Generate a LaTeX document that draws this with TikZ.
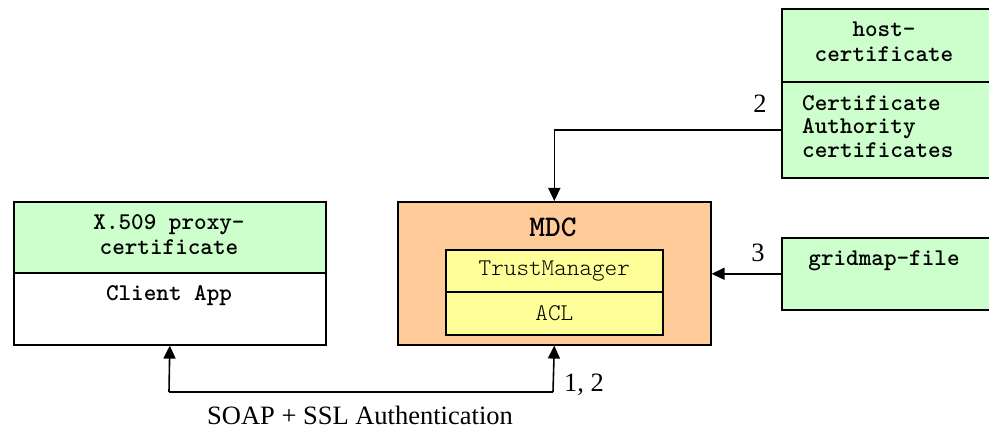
\documentclass[tikz,border=0pt]{standalone}
\usepackage{fontspec}
\setmainfont{Liberation Serif}
\setmonofont{lmmonolt10-regular.otf}[BoldFont=lmmonolt10-bold.otf]
\usetikzlibrary{arrows.meta}
\definecolor{cgreen}{HTML}{CCFFCC}
\definecolor{corange}{HTML}{FFCC99}
\definecolor{cyellow}{HTML}{FFFF99}
\tikzset{
  box/.style={draw=black, line width=1.6pt, anchor=north west, inner sep=0pt},
  mono/.style={font=\fontsize{24}{25}\selectfont\ttfamily},
  monob/.style={font=\fontsize{24}{25}\selectfont\ttfamily\bfseries},
  lbl/.style={font=\fontsize{26.5}{30}\selectfont\rmfamily, inner sep=0pt},
  arr/.style={line width=1.6pt, -{Triangle[length=13pt,width=12pt]}},
  ln/.style={line width=1.6pt}
}
\begin{document}
\begin{tikzpicture}[x=1pt,y=-1pt]
\useasboundingbox (0,0) rectangle (989,430);
% client
\node[box, fill=cgreen, minimum width=312pt, minimum height=71pt] (clienttop) at (13,201) {};
\node[box, fill=white, minimum width=312pt, minimum height=72pt] (client) at (13,272) {};
\node[monob, align=center, inner sep=0pt] (clientt) at (169,235) {X.509 proxy-\\certificate};
\node[monob, inner sep=0pt] (clientapp) at (169,296) {Client App};
% MDC
\node[box, fill=corange, minimum width=313pt, minimum height=143pt] (mdc) at (397,201) {};
\node[font=\fontsize{30}{32}\selectfont\ttfamily\bfseries, inner sep=0pt] (mdct) at (553,227) {MDC};
\node[box, fill=cyellow, minimum width=217pt, minimum height=42pt] (tm) at (445,249) {};
\node[box, fill=cyellow, minimum width=217pt, minimum height=43pt] (acl) at (445,291) {};
\node[mono, inner sep=0pt] (tmt) at (tm.center) {TrustManager};
\node[mono, inner sep=0pt] (aclt) at (acl.center) {ACL};
% host certificate
\node[box, fill=cgreen, minimum width=208pt, minimum height=73pt] (hosttop) at (781,8) {};
\node[box, fill=cgreen, minimum width=208pt, minimum height=96pt] (host) at (781,81) {};
\node[monob, align=center, inner sep=0pt] (hostt) at (884,42) {host-\\certificate};
\node[align=left, anchor=north west, inner sep=0pt, font=\fontsize{24}{23.5}\selectfont\ttfamily\bfseries] (hostb) at (802,95) {Certificate\\Authority\\certificates};
% gridmap
\node[box, fill=cgreen, minimum width=208pt, minimum height=72pt] (grid) at (781,237) {};
\node[monob, inner sep=0pt] (gridt) at (884,261) {gridmap-file};
% connectors
\draw[arr] (host.west) -| (mdc.north);
\node[lbl] (l2) at (760,104) {2};
\draw[arr] (grid.west) -- (mdc.east |- grid.west);
\node[lbl] (l3) at (758,253) {3};
\coordinate (b1) at (169,392);
\coordinate (b2) at (553,392);
\draw[ln] (b1) -- (b2);
\draw[arr] (b1) -- (client.south);
\draw[arr] (b2) -- (mdc.south);
\node[lbl] (l12) at (584,385) {1, 2};
\node[lbl, anchor=base] (soap) at (360,425) {SOAP + SSL Authentication};
\end{tikzpicture}
\end{document}
